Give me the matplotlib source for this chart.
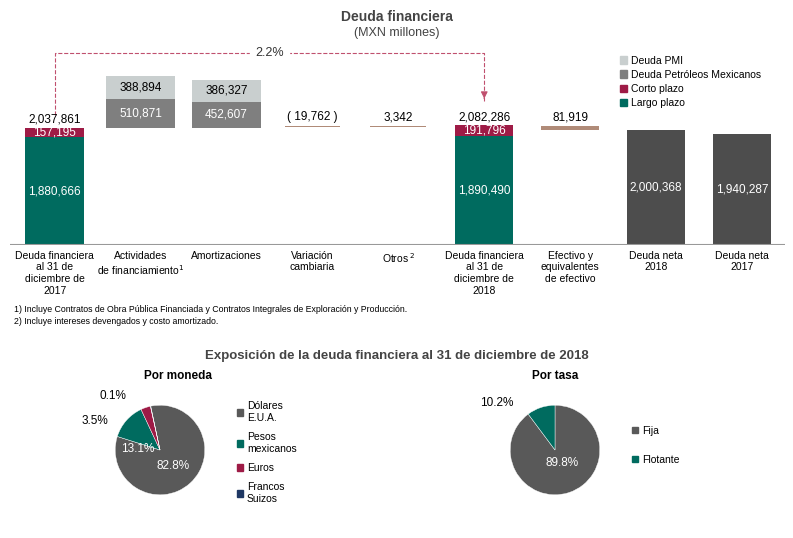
import matplotlib
matplotlib.use("Agg")
import matplotlib.pyplot as plt
from matplotlib.patches import Patch

plt.rcParams['font.family'] = ['Liberation Sans', 'DejaVu Sans']

cats = ["Deuda financiera\nal 31 de\ndiciembre de\n2017", "Actividades\nde financiamiento$^1$", "Amortizaciones",
        "Variación\ncambiaria", "Otros$^{\\ 2}$", "Deuda financiera\nal 31 de\ndiciembre de\n2018",
        "Efectivo y\nequivalentes\nde efectivo", "Deuda neta\n2018", "Deuda neta\n2017"]
largo = [1880666, 1890490]
corto = [157195, 191796]
totals = ["2,037,861", "2,082,286"]
pemex_flow = [510871, 452607]
pmi_flow = [388894, 386327]
variacion = -19762
otros = 3342
efectivo = 81919
neta = [2000368, 1940287]

TEAL = "#006b5f"; RED = "#9e1b46"; GREY = "#7f7f7f"; LGREY = "#c9cfcf"; DARK = "#4d4d4d"; BROWN = "#b08b78"

fig = plt.figure(figsize=(7.93, 5.38), dpi=100)
W, H = 793, 538
def ax_px(l, t, r, b):
    return fig.add_axes([l / W, 1 - b / H, (r - l) / W, (b - t) / H])

ax = ax_px(10, 40, 785, 245)
ax.set_xlim(-0.52, 8.5); ax.set_ylim(0, 3.57e6); ax.axis('off')
bw = 0.68
base = 2037861
for i, x in enumerate([0, 5]):
    ax.bar(x, largo[i], bw, color=TEAL)
    ax.bar(x, corto[i], bw, bottom=largo[i], color=RED)
    ax.text(x, largo[i] / 2, f"{largo[i]:,}", color="white", ha="center", va="center", fontsize=8.5)
    ax.text(x, largo[i] + corto[i] / 2, f"{corto[i]:,}", color="white", ha="center", va="center", fontsize=8.5)
    ax.text(x, largo[i] + corto[i] + 40000, totals[i], ha="center", va="bottom", fontsize=8.5)
for i, x in enumerate([1, 2]):
    ax.bar(x, pemex_flow[i], 0.8, bottom=base, color=GREY)
    ax.bar(x, pmi_flow[i], 0.8, bottom=base + pemex_flow[i], color=LGREY)
    ax.text(x, base + pemex_flow[i] / 2, f"{pemex_flow[i]:,}", color="white", ha="center", va="center", fontsize=8.5)
    ax.text(x, base + pemex_flow[i] + pmi_flow[i] / 2, f"{pmi_flow[i]:,}", ha="center", va="center", fontsize=8.5)
ax.bar(3, 20000, 0.65, bottom=base + 10000, color=BROWN)
ax.text(3, base + 80000, f"( {abs(variacion):,} )", ha="center", va="bottom", fontsize=8.5)
ax.bar(4, 20000, 0.65, bottom=base + 10000, color=BROWN)
ax.text(4, base + 80000, f"{otros:,}", ha="center", va="bottom", fontsize=8.5)
ax.bar(6, efectivo, 0.68, bottom=base - 40000, color=BROWN)
ax.text(6, base + 80000, f"{efectivo:,}", ha="center", va="bottom", fontsize=8.5)
for i, x in enumerate([7, 8]):
    ax.bar(x, neta[i], bw, color=DARK)
    ax.text(x, neta[i] / 2, f"{neta[i]:,}", color="white", ha="center", va="center", fontsize=8.5)
ax.axhline(0, color="#999999", lw=1.5)
PINK = "#c0506e"
yb = 3.35e6
ax.plot([0, 0, 5, 5], [base + 0.22e6, yb, yb, 2.5e6], ls="--", color=PINK, lw=0.8)
ax.annotate("", xy=(5, 2.5e6), xytext=(5, 2.6e6), arrowprops=dict(arrowstyle="-|>", color=PINK, lw=0.8))
ax.text(2.5, yb, "2.2%", ha="center", va="center", fontsize=9, color="#333333", backgroundcolor="white")
for i, c in enumerate(cats):
    ax.text(i, -0.1e6, c, ha="center", va="top", fontsize=7.5)
ax.legend(handles=[Patch(color=LGREY, label="Deuda PMI"), Patch(color=GREY, label="Deuda Petróleos Mexicanos"),
                   Patch(color=RED, label="Corto plazo"), Patch(color=TEAL, label="Largo plazo")],
          loc="upper left", bbox_to_anchor=(0.775, 0.97), frameon=False, fontsize=7.5,
          handlelength=0.7, handleheight=0.7, labelspacing=0.4, handletextpad=0.4)

fig.text(397 / W, 1 - 17 / H, "Deuda financiera", ha="center", va="center", fontsize=10, weight="bold", color="#444444")
fig.text(397 / W, 1 - 33 / H, "(MXN millones)", ha="center", va="center", fontsize=9, color="#444444")
fig.text(14 / W, 1 - 309 / H, "1) Incluye Contratos de Obra Pública Financiada y Contratos Integrales de Exploración y Producción.", fontsize=6.3, va="center")
fig.text(14 / W, 1 - 321 / H, "2) Incluye intereses devengados y costo amortizado.", fontsize=6.3, va="center")
fig.text(397 / W, 1 - 356 / H, "Exposición de la deuda financiera al 31 de diciembre de 2018", ha="center", va="center", fontsize=9.5, weight="bold", color="#444444")

NAVY = "#1f3864"; PDARK = "#595959"
moneda = [82.8, 13.1, 3.5, 0.1]
mon_lab = ["Dólares\nE.U.A.", "Pesos\nmexicanos", "Euros", "Francos\nSuizos"]
tasa = [89.8, 10.2]
tasa_lab = ["Fija", "Flotante"]

ax1 = ax_px(104, 394, 216, 506)
ax1.pie(moneda, colors=[PDARK, TEAL, RED, NAVY], startangle=102, counterclock=False,
        wedgeprops=dict(edgecolor="white", linewidth=0.3))
ax1.set_aspect('equal')
ax1.text(0.3, -0.35, "82.8%", color="white", ha="center", va="center", fontsize=8.5)
ax1.text(-0.5, 0.03, "13.1%", color="white", ha="center", va="center", fontsize=8.5)
ax1.text(-1.45, 0.65, "3.5%", ha="center", va="center", fontsize=8.5)
ax1.text(-1.05, 1.2, "0.1%", ha="center", va="center", fontsize=8.5)
fig.text(178 / W, 1 - 376 / H, "Por moneda", ha="center", va="center", fontsize=8.5, weight="bold")
ax1.legend(handles=[Patch(color=c, label=l) for c, l in zip([PDARK, TEAL, RED, NAVY], mon_lab)],
           loc="upper left", bbox_to_anchor=(1.1, 1.02), frameon=False, fontsize=7.5,
           handlelength=0.6, handleheight=0.6, labelspacing=0.9, handletextpad=0.4)

ax2 = ax_px(499, 394, 611, 506)
ax2.pie(tasa, colors=[PDARK, TEAL], startangle=90, counterclock=False,
        wedgeprops=dict(edgecolor="white", linewidth=0.3))
ax2.set_aspect('equal')
ax2.text(0.15, -0.3, "89.8%", color="white", ha="center", va="center", fontsize=8.5)
ax2.text(-1.3, 1.05, "10.2%", ha="center", va="center", fontsize=8.5)
fig.text(555 / W, 1 - 376 / H, "Por tasa", ha="center", va="center", fontsize=8.5, weight="bold")
ax2.legend(handles=[Patch(color=c, label=l) for c, l in zip([PDARK, TEAL], tasa_lab)],
           loc="upper left", bbox_to_anchor=(1.1, 0.8), frameon=False, fontsize=7.5,
           handlelength=0.6, handleheight=0.6, labelspacing=1.8, handletextpad=0.4)

fig.savefig("out.png", dpi=100)
